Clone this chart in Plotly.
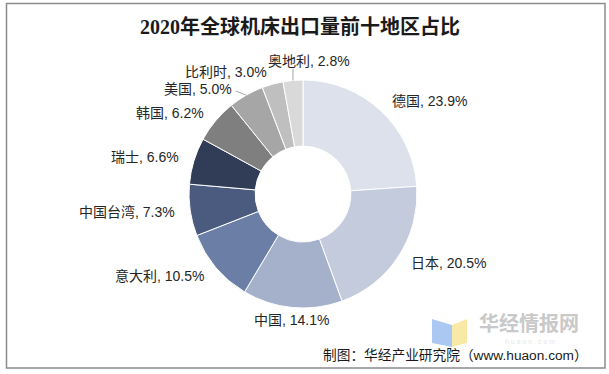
import math
import plotly.graph_objects as go

regions = ["德国", "日本", "中国", "意大利", "中国台湾", "瑞士", "韩国", "美国", "比利时", "奥地利"]
shares = [23.9, 20.5, 14.1, 10.5, 7.3, 6.6, 6.2, 5.0, 3.0, 2.8]
colors = ["#dce1ec", "#c3cbdd", "#a5b1cb", "#6a7ea6", "#4b5b7f",
          "#313d57", "#7f7f7f", "#a6a6a6", "#bfbfbf", "#d9d9d9"]

title_text = "2020年全球机床出口量前十地区占比"
source_text = "制图：华经产业研究院（www.huaon.com）"
watermark_text = "华经情报网"
watermark_sub = "h u a o n . c o m"

W, H = 609, 374
cx, cy, r = 303, 194, 114      # pie centre / radius in pixels
label_r = 127                  # radius at which labels are anchored
# small label nudges (pixels) for crowded labels, with leader lines
label_nudge = {"奥地利": (17, -6), "美国": (-6, 5)}


def px(x):
    return x / W


def py(y):
    return 1 - y / H


fig = go.Figure(go.Pie(
    labels=regions,
    values=shares,
    sort=False,
    direction="clockwise",
    rotation=0,
    hole=0.42,
    marker=dict(colors=colors, line=dict(color="white", width=1)),
    textinfo="none",
    hoverinfo="skip",
    showlegend=False,
    domain=dict(x=[px(cx - r), px(cx + r)], y=[py(cy + r), py(cy - r)]),
))

shapes = [
    dict(type="rect", xref="paper", yref="paper",
         x0=px(6.5), x1=px(605), y0=py(368), y1=py(3.5),
         line=dict(color="#8c8c8c", width=1.5), fillcolor="rgba(0,0,0,0)", layer="below"),
    # watermark logo (book-like)
    dict(type="path", xref="paper", yref="paper",
         path=f"M {px(432)},{py(319)} L {px(452)},{py(325)} L {px(452)},{py(347)} L {px(432)},{py(343)} Z",
         fillcolor="#aac8f2", line=dict(width=0), layer="below"),
    dict(type="path", xref="paper", yref="paper",
         path=f"M {px(452)},{py(325)} L {px(467)},{py(319)} L {px(467)},{py(343)} L {px(452)},{py(347)} Z",
         fillcolor="#f8eaa6", line=dict(width=0), layer="below"),
]

annotations = []
label_font = dict(family="Liberation Sans, Noto Sans CJK SC", size=14, color="#262626")
total = sum(shares)
cum = 0.0
for name, v in zip(regions, shares):
    mid = (cum + v / 2) / total
    cum += v
    th = 2 * math.pi * mid
    s, c = math.sin(th), math.cos(th)
    lx, ly = cx + label_r * s, cy - label_r * c
    if s > 0.2:
        xa = "left"
    elif s < -0.2:
        xa = "right"
    else:
        xa = "center"
    dx, dy = label_nudge.get(name, (0, 0))
    lx2, ly2 = lx + dx, ly + dy
    annotations.append(dict(
        text=f"{name}, {v:.1f}%", x=px(lx2), y=py(ly2), xref="paper", yref="paper",
        xanchor=xa, yanchor="middle", showarrow=False, font=label_font))
    if name in label_nudge:
        ex, ey = cx + r * s, cy - r * c
        if xa == "center":
            tx, ty = ex, ly2 + 7
        else:
            tx, ty = lx2 + (2 if xa == "right" else -2), ly2 + 2
        shapes.append(dict(type="line", xref="paper", yref="paper",
                           x0=px(ex), y0=py(ey), x1=px(tx), y1=py(ty),
                           line=dict(color="#a6a6a6", width=1)))

annotations += [
    dict(text=f"<b>{title_text}</b>", x=px(300), y=py(26), xref="paper", yref="paper",
         xanchor="center", yanchor="middle", showarrow=False,
         font=dict(family="Liberation Serif, Noto Sans CJK SC", size=20, color="#1a1a1a")),
    dict(text=f"<b>{watermark_text}</b>", x=px(478), y=py(322.5), xref="paper", yref="paper",
         xanchor="left", yanchor="middle", showarrow=False, borderpad=0,
         font=dict(family="Noto Sans CJK SC", size=20, color="#c9c9c9")),
    dict(text=watermark_sub, x=px(530), y=py(341.5), xref="paper", yref="paper",
         xanchor="center", yanchor="middle", showarrow=False, borderpad=0,
         font=dict(family="Liberation Sans", size=7, color="#e8e8e8")),
    dict(text=source_text, x=px(589), y=py(355.5), xref="paper", yref="paper",
         xanchor="right", yanchor="middle", showarrow=False, borderpad=0,
         font=dict(family="Liberation Sans, Noto Sans CJK SC", size=13.7, color="#1a1a1a")),
]

fig.update_layout(
    width=W, height=H,
    margin=dict(l=0, r=0, t=0, b=0),
    paper_bgcolor="white",
    plot_bgcolor="white",
    shapes=shapes,
    annotations=annotations,
)

fig.write_html("out.html", config={"displayModeBar": False},
               post_script="document.body.style.margin='0';document.body.style.overflow='hidden';")
